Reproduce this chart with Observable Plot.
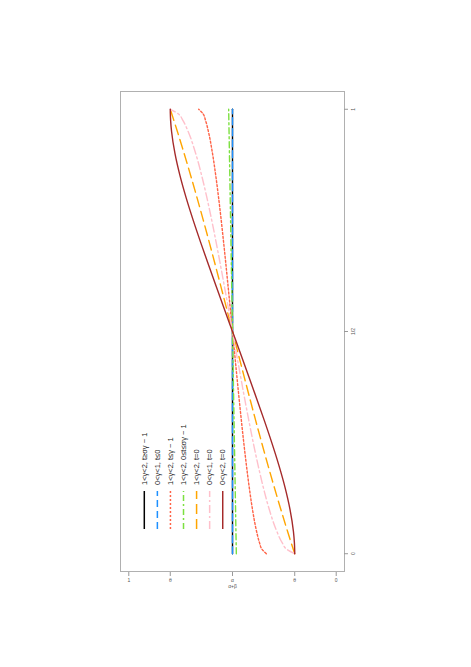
<!DOCTYPE html>
<html><head><meta charset="utf-8">
<script src="https://cdn.jsdelivr.net/npm/d3@7"></script>
<script src="https://cdn.jsdelivr.net/npm/@observablehq/plot@0.6"></script>
<style>
html,body{margin:0;padding:0;background:#fff;overflow:hidden;width:471px;height:667px}
#rot{position:absolute;left:0;top:0;width:667px;height:471px;transform-origin:0 0;transform:translate(0px,667px) rotate(-90deg);}
#legend{position:absolute;left:0;top:0}
</style></head><body><div id="rot"></div>
<script>
const uGrid = [0, 0.01, 0.025, 0.05, 0.1, 0.15, 0.2, 0.25, 0.3, 0.35, 0.4, 0.45, 0.5, 0.55, 0.6, 0.65, 0.7, 0.75, 0.8, 0.85, 0.9, 0.95, 0.975, 0.99, 1];
const sBlack  = [0.5,0.5,0.5,0.5,0.5,0.5,0.5,0.5,0.5,0.5,0.5,0.5,0.5,0.5,0.5,0.5,0.5,0.5,0.5,0.5,0.5,0.5,0.5,0.5,0.5];
const sBlue   = [0.5,0.5,0.5,0.5,0.5,0.5,0.5,0.5,0.5,0.5,0.5,0.5,0.5,0.5,0.5,0.5,0.5,0.5,0.5,0.5,0.5,0.5,0.5,0.5,0.5];
const sRed    = [0.337,0.3578,0.37,0.3838,0.4038,0.4195,0.4332,0.4457,0.4573,0.4684,0.4791,0.4896,0.5,0.5104,0.5209,0.5316,0.5427,0.5543,0.5668,0.5805,0.5962,0.6162,0.63,0.6422,0.663];
const sGreen  = [0.4815,0.4819,0.4824,0.4834,0.4852,0.4871,0.4889,0.4908,0.4926,0.4945,0.4963,0.4982,0.5,0.5018,0.5037,0.5055,0.5074,0.5092,0.5111,0.5129,0.5148,0.5166,0.5176,0.5181,0.5185];
const sOrange = [0.2,0.207,0.2173,0.2343,0.2672,0.2989,0.3296,0.3594,0.3884,0.4168,0.4448,0.4725,0.5,0.5275,0.5552,0.5832,0.6116,0.6406,0.6704,0.7011,0.7328,0.7657,0.7827,0.793,0.8];
const sPink   = [0.2,0.2383,0.2607,0.2861,0.3229,0.3519,0.3771,0.4,0.4214,0.4418,0.4615,0.4809,0.5,0.5191,0.5385,0.5582,0.5786,0.6,0.6229,0.6481,0.6771,0.7139,0.7393,0.7617,0.8];
const sBrown  = [0.2,0.2003,0.2016,0.2062,0.2228,0.2471,0.277,0.3107,0.3468,0.3843,0.4225,0.461,0.5,0.539,0.5775,0.6157,0.6532,0.6893,0.723,0.7529,0.7772,0.7938,0.7984,0.7997,0.8];

const legendLabels = ["1<γ<2, t≥σγ − 1", "0<γ<1, t≤0", "1<γ<2, t≤γ − 1", "1<γ<2, 0≤t≤σγ − 1", "1<γ<2, t=0", "0<γ<1, t=0", "0<γ<2, t=0"];
const xTickValues = [0, 0.5, 1];
const xTickLabels = ["0", "1/2", "1"];
const yTickValues = [0, 0.2, 0.5, 0.8, 1];
const yTickLabels = ["0", "θ", "α\nα+β", "θ", "1"];

const seriesValues = [sBlack, sBlue, sRed, sGreen, sOrange, sPink, sBrown];
const colors = ["#000000", "#1E90FF", "#FF6347", "#7CE040", "#FFA500", "#FFC0CB", "#A52A2A"];
const dashes = [null, "7,4", "2,2", "6,3,2,3", "10,5", "8,3,2,3", null];

const marks = [
  Plot.frame({stroke: "#b0b0b0", strokeWidth: 1}),
  Plot.axisX({ticks: xTickValues, tickFormat: (d) => xTickLabels[xTickValues.indexOf(d)], tickSize: 4, tickPadding: 3, fontSize: 5, stroke: "#999", color: "#555", label: null}),
  Plot.axisY({ticks: yTickValues, tickFormat: (d) => yTickLabels[yTickValues.indexOf(d)], tickSize: 4, tickPadding: 3, fontSize: 5, lineHeight: 1.1, tickRotate: 90, stroke: "#999", color: "#555", label: null})
];
seriesValues.forEach((vals, i) => {
  marks.push(Plot.line(uGrid.map((u, j) => ({u, v: vals[j]})), {
    x: "u", y: "v", stroke: colors[i], strokeWidth: 1.4,
    strokeDasharray: dashes[i] || undefined, curve: "monotone-x"
  }));
});

const chart = Plot.plot({
  width: 667, height: 471,
  marginLeft: 95, marginRight: 92, marginTop: 120, marginBottom: 127,
  style: {background: "#fff", fontFamily: "Liberation Sans, Arial, sans-serif"},
  x: {domain: [-0.04, 1.04]},
  y: {domain: [-0.04, 1.04]},
  marks
});
const rot = document.getElementById("rot");
rot.appendChild(chart);

// legend (rotated with the chart)
const lg = d3.create("svg").attr("id", "legend").attr("width", 667).attr("height", 471)
  .style("position", "absolute").style("left", "0px").style("top", "0px");
legendLabels.forEach((lab, i) => {
  const y = 144.3 + i * 13.07;
  lg.append("line").attr("x1", 138).attr("x2", 176).attr("y1", y).attr("y2", y)
    .attr("stroke", colors[i]).attr("stroke-width", 1.5)
    .attr("stroke-dasharray", dashes[i] || null);
  lg.append("text").attr("x", 182).attr("y", y).attr("dy", "0.35em")
    .attr("font-size", 7.5).attr("font-family", "Liberation Sans, Arial, sans-serif")
    .attr("fill", "#222").text(lab);
});
rot.appendChild(lg.node());
</script>
</body></html>
